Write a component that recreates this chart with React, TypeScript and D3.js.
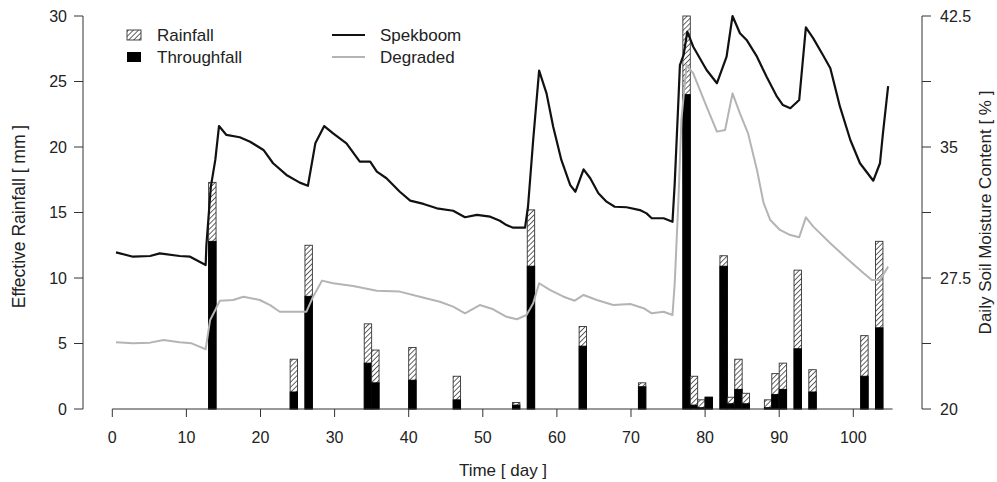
import React from 'react';
import * as d3 from 'd3';

// rain events (day the bar starts on)
const eventDays = [13, 24, 26, 34, 35, 40, 46, 54, 56, 63, 71, 77, 78, 79, 80, 82, 83, 84, 85, 88, 89, 90, 92, 94, 101, 103];
const rainfall = [17.3, 3.8, 12.5, 6.5, 4.5, 4.7, 2.5, 0.5, 15.2, 6.3, 2.0, 30.0, 2.5, 0.7, 0.9, 11.7, 0.9, 3.8, 1.2, 0.7, 2.7, 3.5, 10.6, 3.0, 5.6, 12.8];
const throughfall = [12.8, 1.3, 8.6, 3.5, 2.0, 2.2, 0.7, 0.3, 10.9, 4.8, 1.7, 24.0, 0.3, 0.1, 0.9, 10.9, 0.4, 1.5, 0.4, 0.1, 1.1, 1.5, 4.6, 1.3, 2.5, 6.2];

// soil moisture (%)
const spekboomDays = [0.5, 2.8, 5.1, 6.4, 9.1, 10.5, 12.6, 12.7, 13.3, 13.9, 14.4, 15.4, 17.2, 18.6, 20.4, 21.7, 23.5, 25.3, 26.4, 27.4, 28.6, 29.8, 31.6, 33.4, 34.8, 35.7, 37.0, 38.8, 40.2, 42.0, 43.8, 46.0, 47.6, 49.2, 51.0, 52.3, 53.2, 54.1, 55.7, 56.1, 56.8, 57.6, 58.6, 59.5, 60.6, 61.8, 62.5, 63.6, 64.5, 65.6, 66.7, 67.8, 69.4, 71.2, 72.1, 72.8, 74.4, 75.6, 75.9, 76.4, 76.6, 77.1, 77.6, 78.4, 80.2, 81.6, 82.9, 83.7, 84.7, 85.6, 87.0, 88.3, 89.7, 90.5, 91.5, 92.7, 93.6, 94.6, 95.9, 96.9, 98.2, 99.6, 100.9, 102.7, 103.6, 104.0, 104.7];
const spekboomMoisture = [28.97, 28.72, 28.76, 28.91, 28.76, 28.72, 28.24, 29.39, 32.73, 34.26, 36.2, 35.69, 35.56, 35.3, 34.83, 34.07, 33.4, 32.96, 32.78, 35.21, 36.2, 35.78, 35.21, 34.16, 34.16, 33.59, 33.21, 32.44, 31.93, 31.74, 31.49, 31.35, 30.98, 31.11, 31.01, 30.78, 30.53, 30.38, 30.38, 31.58, 35.4, 39.37, 38.07, 36.16, 34.26, 32.82, 32.44, 33.72, 33.21, 32.35, 31.87, 31.58, 31.55, 31.39, 31.2, 30.92, 30.92, 30.72, 32.92, 37.69, 39.69, 40.27, 41.6, 40.74, 39.41, 38.65, 40.17, 42.5, 41.51, 41.13, 40.17, 39.02, 37.88, 37.4, 37.22, 37.69, 41.85, 41.22, 40.27, 39.51, 37.31, 35.4, 34.07, 33.07, 34.07, 35.78, 38.49];
const degradedDays = [0.5, 2.8, 5.1, 6.9, 9.1, 10.7, 12.6, 13.2, 13.9, 14.5, 16.3, 17.7, 19.9, 21.3, 22.6, 26.2, 27.1, 28.3, 29.8, 32.5, 35.7, 38.8, 41.5, 44.2, 46.0, 47.6, 49.6, 51.4, 53.2, 54.6, 55.9, 56.8, 57.6, 59.1, 60.9, 62.4, 63.6, 65.4, 67.6, 69.9, 71.7, 72.8, 74.4, 75.6, 75.9, 76.4, 76.8, 77.5, 78.4, 80.2, 81.6, 82.7, 83.7, 84.7, 85.8, 87.0, 87.9, 88.8, 90.1, 91.5, 92.7, 93.6, 94.6, 96.9, 99.1, 101.4, 102.5, 103.6, 104.7];
const degradedMoisture = [23.82, 23.76, 23.8, 23.95, 23.82, 23.76, 23.42, 25.1, 25.67, 26.2, 26.24, 26.43, 26.24, 25.95, 25.57, 25.57, 26.43, 27.35, 27.2, 27.04, 26.77, 26.72, 26.43, 26.14, 25.86, 25.48, 25.95, 25.71, 25.28, 25.14, 25.38, 26.05, 27.2, 26.81, 26.43, 26.2, 26.53, 26.24, 25.95, 26.01, 25.77, 25.48, 25.57, 25.38, 27.2, 31.97, 36.55, 39.69, 39.22, 37.31, 35.88, 35.97, 38.07, 36.93, 35.78, 33.68, 31.78, 30.82, 30.25, 29.96, 29.83, 30.97, 30.44, 29.49, 28.63, 27.77, 27.39, 27.39, 28.15];

const xTicks = [0, 10, 20, 30, 40, 50, 60, 70, 80, 90, 100];
const leftTicks = [0, 5, 10, 15, 20, 25, 30];
const rightTicks = [20, 23.75, 27.5, 31.25, 35, 38.75, 42.5];
const rightLabels = [20, 27.5, 35, 42.5];

const W = 997;
const H = 482;
const FONT = '"Liberation Sans", Arial, sans-serif';
const AXIS = '#333';

export default function App() {
  const x = d3.scaleLinear().domain([0, 100]).range([112.3, 853.3]);
  const yL = d3.scaleLinear().domain([0, 30]).range([409, 16]);
  const yR = d3.scaleLinear().domain([20, 42.5]).range([409, 16]);

  const leftX = 83;
  const rightX = 922;
  const xEnd = 105.3;

  const line = d3.line<[number, number]>()
    .x(d => x(d[0]))
    .y(d => yR(d[1]));

  const spek = spekboomDays.map((d, i) => [d, spekboomMoisture[i]] as [number, number]);
  const degr = degradedDays.map((d, i) => [d, degradedMoisture[i]] as [number, number]);

  return (
    <svg width={W} height={H} style={{ position: 'absolute', left: 0, top: 0, background: '#fff' }}
      fontFamily={FONT}>
      <defs>
        <pattern id="hatch" width={3.6} height={3.6} patternUnits="userSpaceOnUse" patternTransform="rotate(45)">
          <rect width={3.6} height={3.6} fill="#fff" />
          <line x1={0} y1={0} x2={0} y2={3.6} stroke="#4a4a4a" strokeWidth={1.7} />
        </pattern>
      </defs>
      <rect width={W} height={H} fill="#fff" />

      {/* bars */}
      {eventDays.map((d, i) => (
        <g key={'b' + i}>
          <rect x={x(d)} y={yL(rainfall[i])} width={x(d + 1) - x(d)} height={yL(0) - yL(rainfall[i])}
            fill="url(#hatch)" stroke="#333" strokeWidth={0.9} />
          <rect x={x(d)} y={yL(throughfall[i])} width={x(d + 1) - x(d)} height={yL(0) - yL(throughfall[i])}
            fill="#000" stroke="#000" strokeWidth={0.9} />
        </g>
      ))}

      {/* moisture lines */}
      <path d={line(degr) || ''} fill="none" stroke="#b4b4b4" strokeWidth={2} strokeLinejoin="round" />
      <path d={line(spek) || ''} fill="none" stroke="#111" strokeWidth={2.2} strokeLinejoin="round" />

      {/* x axis */}
      <line x1={x(0)} x2={x(xEnd)} y1={yL(0)} y2={yL(0)} stroke={AXIS} strokeWidth={1} />
      {xTicks.map(t => (
        <g key={'x' + t}>
          <line x1={x(t)} x2={x(t)} y1={yL(0)} y2={yL(0) + 8} stroke={AXIS} />
          <text x={x(t)} y={443} fontSize={16} textAnchor="middle" fill="#222">{t}</text>
        </g>
      ))}
      <text x={503} y={476} fontSize={17} textAnchor="middle" fill="#222">Time [ day ]</text>

      {/* left axis */}
      <line x1={leftX} x2={leftX} y1={yL(0)} y2={yL(30)} stroke={AXIS} />
      {leftTicks.map(t => (
        <g key={'l' + t}>
          <line x1={leftX - 9} x2={leftX} y1={yL(t)} y2={yL(t)} stroke={AXIS} />
          <text x={67} y={yL(t)} dy="0.35em" fontSize={16} textAnchor="end" fill="#222">{t}</text>
        </g>
      ))}
      <text transform={`translate(19,${(yL(0) + yL(30)) / 2 + 4}) rotate(-90)`} dy="0.35em"
        fontSize={17.5} textAnchor="middle" fill="#222">Effective Rainfall  [ mm ]</text>

      {/* right axis */}
      <line x1={rightX} x2={rightX} y1={yR(20)} y2={yR(42.5)} stroke={AXIS} />
      {rightTicks.map(t => (
        <line key={'r' + t} x1={rightX} x2={rightX + 9} y1={yR(t)} y2={yR(t)} stroke={AXIS} />
      ))}
      {rightLabels.map(t => (
        <text key={'rl' + t} x={940} y={yR(t)} dy="0.35em" fontSize={16} textAnchor="start" fill="#222">{t}</text>
      ))}
      <text transform={`translate(985,${(yR(20) + yR(42.5)) / 2}) rotate(-90)`} dy="0.35em"
        fontSize={17} textAnchor="middle" fill="#222">Daily Soil Moisture Content [ % ]</text>

      {/* legend */}
      <rect x={127} y={30} width={14} height={10} fill="url(#hatch)" stroke="#333" strokeWidth={0.9} />
      <text x={157} y={35} dy="0.35em" fontSize={17} fill="#222">Rainfall</text>
      <rect x={127} y={52} width={14} height={10} fill="#000" />
      <text x={157} y={57} dy="0.35em" fontSize={17} fill="#222">Throughfall</text>

      <line x1={332} x2={365} y1={35} y2={35} stroke="#111" strokeWidth={2.2} />
      <text x={380} y={35} dy="0.35em" fontSize={17} fill="#222">Spekboom</text>
      <line x1={332} x2={365} y1={57} y2={57} stroke="#b4b4b4" strokeWidth={2} />
      <text x={380} y={57} dy="0.35em" fontSize={17} fill="#222">Degraded</text>
    </svg>
  );
}
